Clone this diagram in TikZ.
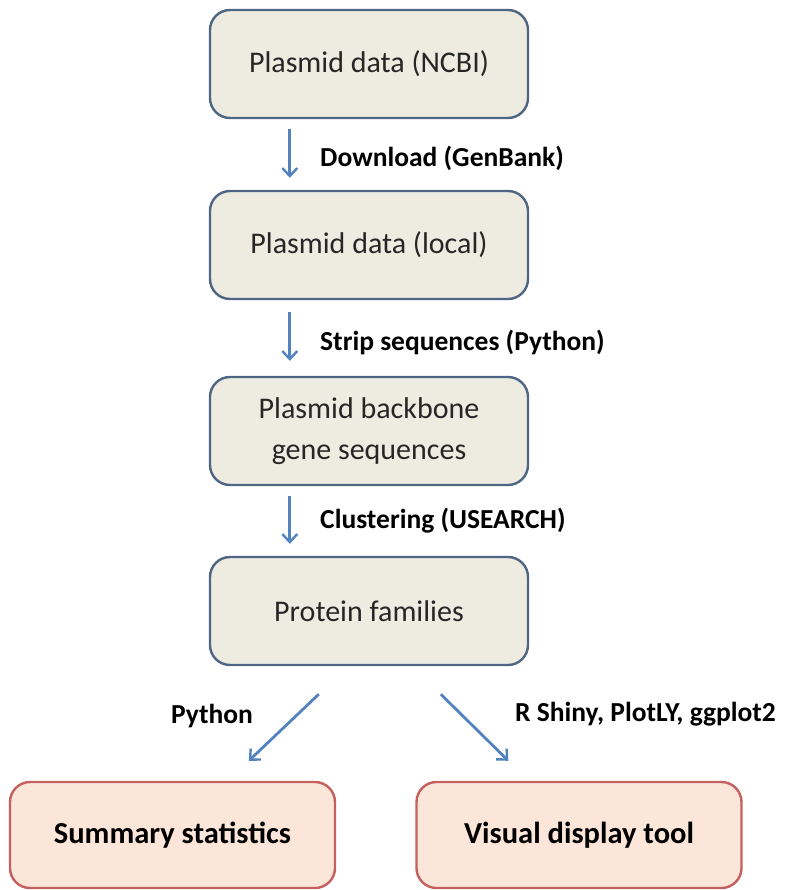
\documentclass[tikz,border=0pt]{standalone}
\usepackage{fontspec}
\setmainfont{Carlito}
\usepackage{xcolor}
\usepackage{tikz}
\usetikzlibrary{positioning,calc,arrows.meta}

\definecolor{boxfill}{HTML}{EEECE1}
\definecolor{boxline}{HTML}{4E6584}
\definecolor{outfill}{HTML}{FCE6DA}
\definecolor{outline}{HTML}{C4605E}
\definecolor{flowblue}{HTML}{5383BF}
\definecolor{boxtext}{HTML}{262626}

\tikzstyle{databox}=[draw=boxline, fill=boxfill, line width=2.4pt, rounded corners=20pt,
    minimum width=318pt, minimum height=108pt, align=center, text=boxtext,
    font=\fontsize{30}{41}\selectfont]
\tikzstyle{outbox}=[draw=outline, fill=outfill, line width=2.4pt, rounded corners=20pt,
    minimum width=325pt, minimum height=106pt, align=center,
    font=\fontsize{30.5}{36}\selectfont\bfseries]
\tikzstyle{flow}=[draw=flowblue, line width=2.8pt,
    -{Straight Barb[length=8pt,width=15pt,line width=2.4pt]}]
\tikzstyle{lbl}=[font=\fontsize{27.5}{32}\selectfont\bfseries, inner sep=0pt]

\begin{document}
\begin{tikzpicture}[x=1pt, y=-1pt]

            \useasboundingbox (0,0) rectangle (795,890);

            % Pipeline boxes
            \node[databox] (ncbi)   at (369,64)  {Plasmid data (NCBI)};
            \node[databox] (local)  at (369,245) {Plasmid data (local)};
            \node[databox] (genes)  at (369,431) {Plasmid backbone\\gene sequences};
            \node[databox] (family) at (369,611) {Protein families};

            % Output boxes
            \node[outbox] (stats)  at (172.5,835) {Summary statistics};
            \node[outbox] (visual) at (579,835)   {Visual display tool};

            % Step arrows (left of centre)
            \draw[flow] ([xshift=81pt,yshift=-10pt]ncbi.south west) -- ([xshift=81pt,yshift=12pt]local.north west);
            \draw[flow] ([xshift=81pt,yshift=-12pt]local.south west) -- ([xshift=81pt,yshift=15pt]genes.north west);
            \draw[flow] ([xshift=81pt,yshift=-10pt]genes.south west) -- ([xshift=81pt,yshift=12pt]family.north west);

            % Branch arrows
            \draw[flow] ([xshift=110pt,yshift=-28pt]family.south west) -- ([xshift=240pt,yshift=20pt]stats.north west);
            \draw[flow] ([xshift=232pt,yshift=-28pt]family.south west) -- ([xshift=93pt,yshift=20pt]visual.north west);

            % Step labels
            \node[lbl, anchor=west] (dl)    at (320,158) {Download (GenBank)};
            \node[lbl, anchor=west] (strip) at (320,342) {Strip sequences (Python)};
            \node[lbl, anchor=west] (clust) at (320,521) {Clustering (USEARCH)};
            \node[lbl] (py) at (212,716) {Python};
            \node[lbl, anchor=west] (viz) at (515,714) {R Shiny, PlotLY, ggplot2};

        \end{tikzpicture}
\end{document}
